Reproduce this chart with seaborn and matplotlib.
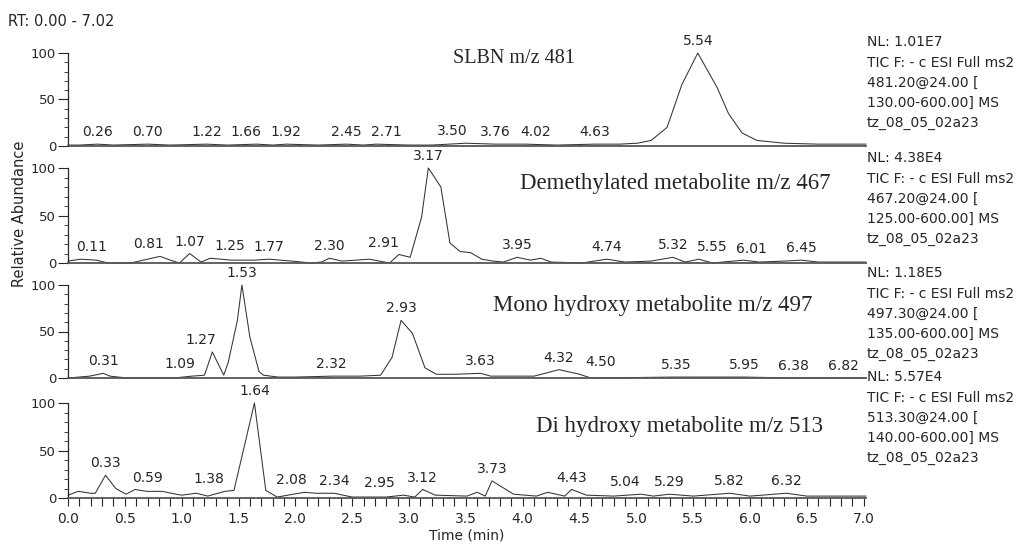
import numpy as np
import matplotlib
matplotlib.use("Agg")
import matplotlib.pyplot as plt
import seaborn as sns

sns.set_style("ticks")
plt.rcParams['font.family'] = ['DejaVu Sans']
plt.rcParams['axes.linewidth'] = 0.9

titulos = ["SLBN m/z 481", "Demethylated metabolite m/z 467",
           "Mono hydroxy metabolite m/z 497", "Di hydroxy metabolite m/z 513"]
nl_vals = ["1.01E7", "4.38E4", "1.18E5", "5.57E4"]
precursores = ["481.20", "467.20", "497.30", "513.30"]
rango_inicio = ["130.00", "125.00", "135.00", "140.00"]

t_slbn = [0.0, 0.10, 0.26, 0.40, 0.70, 0.90, 1.22, 1.40, 1.66, 1.80, 1.92, 2.20,
          2.45, 2.60, 2.71, 3.00, 3.20, 3.50, 3.76, 4.02, 4.30, 4.63, 4.85, 5.01,
          5.13, 5.27, 5.40, 5.54, 5.71, 5.81, 5.93, 6.06, 6.30, 6.60, 7.02]
v_slbn = [1, 1, 2, 1, 2, 1, 2, 1, 2, 1, 2, 1,
          2, 1, 2, 1, 1, 3, 2, 2, 1, 2, 2, 3,
          6, 20, 66, 100, 63, 35, 14, 6, 3, 2, 2]
pk_slbn = [0.26, 0.70, 1.22, 1.66, 1.92, 2.45, 2.71, 3.50, 3.76, 4.02, 4.63, 5.54]

t_dem = [0.0, 0.11, 0.25, 0.35, 0.55, 0.70, 0.81, 0.90, 0.98, 1.07, 1.17, 1.25,
         1.44, 1.64, 1.77, 1.97, 2.14, 2.23, 2.30, 2.41, 2.65, 2.83, 2.91, 3.01,
         3.11, 3.17, 3.28, 3.36, 3.45, 3.54, 3.64, 3.74, 3.83, 3.95, 4.07, 4.16,
         4.25, 4.52, 4.74, 4.90, 5.13, 5.32, 5.43, 5.55, 5.67, 5.94, 6.01, 6.08,
         6.30, 6.45, 6.60, 7.02]
v_dem = [2, 4, 3, 0, 0, 4, 7, 3, 0, 10, 1, 5,
         3, 3, 4, 2, 0, 1, 5, 2, 4, 0, 9, 6,
         48, 100, 80, 21, 12, 11, 4, 2, 1, 6, 3, 5,
         1, 0, 4, 1, 2, 6, 1, 4, 0, 3, 2, 1,
         2, 3, 1, 1]
pk_dem = [0.11, 0.81, 1.07, 1.25, 1.77, 2.30, 2.91, 3.17, 3.95, 4.74, 5.32,
          5.55, 6.01, 6.45]

t_mono = [0.0, 0.19, 0.31, 0.37, 0.52, 0.93, 1.09, 1.20, 1.27, 1.37, 1.41, 1.49,
          1.53, 1.60, 1.68, 1.72, 1.85, 2.00, 2.32, 2.57, 2.75, 2.85, 2.93, 3.03,
          3.14, 3.24, 3.39, 3.63, 3.72, 4.10, 4.32, 4.50, 4.60, 5.35, 5.95, 6.38,
          6.82, 7.02]
v_mono = [0, 2, 5, 2, 0, 0, 2, 3, 28, 3, 17, 62,
          100, 44, 7, 3, 1, 1, 2, 2, 3, 22, 62, 48,
          11, 4, 4, 5, 2, 2, 9, 4, 0, 1, 1, 0,
          0, 0]
pk_mono = [0.31, 1.09, 1.27, 1.53, 2.32, 2.93, 3.63, 4.32, 4.50, 5.35, 5.95,
           6.38, 6.82]

t_di = [0.0, 0.09, 0.20, 0.24, 0.33, 0.42, 0.51, 0.59, 0.69, 0.83, 0.95, 1.00,
        1.13, 1.23, 1.38, 1.46, 1.64, 1.74, 1.84, 2.08, 2.18, 2.34, 2.42, 2.50,
        2.80, 2.95, 3.05, 3.12, 3.23, 3.51, 3.60, 3.67, 3.73, 3.92, 4.12, 4.22,
        4.37, 4.43, 4.56, 4.80, 5.04, 5.15, 5.29, 5.50, 5.82, 6.00, 6.32, 6.50,
        7.02]
v_di = [3, 7, 5, 5, 24, 10, 4, 9, 7, 7, 4, 3,
        5, 2, 7, 8, 100, 8, 1, 6, 5, 5, 3, 1,
        1, 3, 1, 9, 3, 2, 6, 2, 18, 4, 2, 6,
        2, 9, 3, 2, 4, 2, 4, 2, 5, 2, 5, 2,
        2]
pk_di = [0.33, 0.59, 1.38, 1.64, 2.08, 2.34, 2.95, 3.12, 3.73, 4.43, 5.04,
         5.29, 5.82, 6.32]

tiempos = [t_slbn, t_dem, t_mono, t_di]
valores = [v_slbn, v_dem, v_mono, v_di]
picos = [pk_slbn, pk_dem, pk_mono, pk_di]

# ── Geometría (píxeles de la imagen) ──
W, H = 1027, 550
x_izq, x_der = 68, 866
paneles = [(53, 146), (168, 263), (285, 378), (403, 498)]
titulo_pos = [(3.92, 94, 14.5), (5.34, 84, 16.5), (5.14, 78, 16.5), (5.38, 75, 16.5)]
nl_px = [42, 158, 273, 377]
# desplazamiento horizontal (px) de etiquetas que se solapan, como en Xcalibur
desplaz = {(0, 1.66): -11, (0, 2.71): 10, (0, 3.50): -14, (0, 4.02): 11,
           (1, 0.11): 11, (1, 0.81): -12, (1, 1.25): 20, (1, 2.91): -15,
           (1, 5.55): 13, (2, 1.09): -12, (2, 1.27): -12, (2, 4.50): 21,
           (3, 0.59): 12, (3, 1.38): -16, (3, 2.08): -13, (3, 2.95): -24,
           (3, 5.04): -16}


def caja(x0, x1, ytop, ybot):
    return [x0 / W, 1 - ybot / H, (x1 - x0) / W, (ybot - ytop) / H]


fig = plt.figure(figsize=(W / 100, H / 100), dpi=100)

for i, (ytop, ybot) in enumerate(paneles):
    ax = fig.add_axes(caja(x_izq, x_der, ytop, ybot))
    sns.lineplot(x=tiempos[i], y=valores[i], ax=ax, color='#333333',
                 linewidth=0.75, clip_on=False)
    ax.set_xlim(0, 7.02)
    ax.set_ylim(0, 100)
    ax.set_xlabel('')
    ax.set_ylabel('')
    ax.spines[['top', 'right']].set_visible(False)
    ax.spines['bottom'].set_color('#555555')
    ax.spines['bottom'].set_linewidth(1.3)

    ax.set_yticks([0, 50, 100])
    ax.set_yticks(np.arange(0, 101, 10), minor=True)
    ax.tick_params(axis='y', which='major', length=7, width=0.8, pad=1.5, labelsize=9.5)
    ax.tick_params(axis='y', which='minor', length=3, width=0.6)

    if i < 3:
        ax.set_xticks([])
    else:
        ax.set_xticks(np.arange(0, 7.01, 0.5))
        ax.set_xticklabels([f"{x:.1f}" for x in np.arange(0, 7.01, 0.5)])
        ax.set_xticks(np.arange(0, 7.01, 0.1), minor=True)
        ax.tick_params(axis='x', which='both', length=6, width=0.8, pad=4, labelsize=10)
        ax.set_xlabel('Time (min)', fontsize=10, labelpad=2)

    for rt in picos[i]:
        yv = np.interp(rt, tiempos[i], valores[i])
        dx = desplaz.get((i, rt), 0) * 0.72
        ax.annotate(f"{rt:.2f}", (rt, yv), xytext=(dx, 3.5), textcoords='offset points',
                    ha='center', va='bottom', fontsize=10, annotation_clip=False)

    tx, ty, fs = titulo_pos[i]
    ax.text(tx, ty, titulos[i], ha='center', va='center', fontsize=fs,
            family='Liberation Serif')

    # Texto de cabecera a la derecha
    lineas = [f"NL: {nl_vals[i]}", "TIC F: - c ESI Full ms2",
              f"{precursores[i]}@24.00 [", f"{rango_inicio[i]}-600.00] MS",
              "tz_08_05_02a23"]
    for txt, dy in zip(lineas, [0, 21, 41, 61, 81]):
        fig.text(867 / W, 1 - (nl_px[i] + dy) / H, txt, ha='left', va='center',
                 fontsize=10)

fig.text(8 / W, 1 - 21 / H, "RT: 0.00 - 7.02", ha='left', va='center', fontsize=10.5)
fig.text(20 / W, 1 - 214 / H, "Relative Abundance", rotation=90,
         ha='center', va='center', fontsize=10.5)

fig.savefig("out.png", dpi=100)
